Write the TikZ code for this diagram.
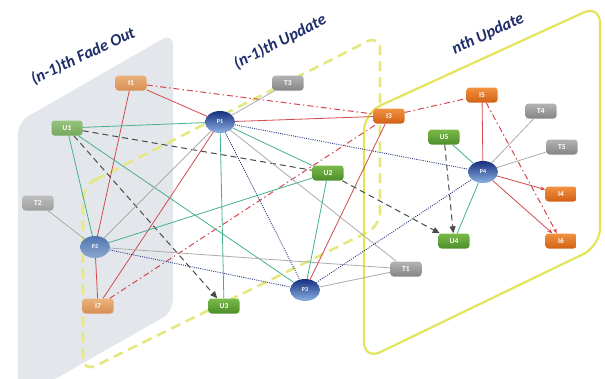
\documentclass[tikz,border=0pt]{standalone}
\usepackage{fontspec}
\setmainfont{Carlito}
\usetikzlibrary{shapes.geometric,arrows.meta}
\definecolor{panelgray}{HTML}{E3E7EB}
\definecolor{ydashc}{HTML}{E4E87E}
\definecolor{ysolc}{HTML}{E2E45C}
\definecolor{titlec}{HTML}{1F2D6B}
\definecolor{redc}{HTML}{D24A4E}
\definecolor{greenc}{HTML}{45B08C}
\definecolor{grayc}{HTML}{ABABAB}
\definecolor{navyc}{HTML}{2B3A80}
\definecolor{darkc}{HTML}{4A4A4A}
\begin{document}
\begin{tikzpicture}[x=1pt,y=-1pt,
  box/.style={rectangle,rounded corners=3pt,minimum width=31pt,minimum height=15pt,inner sep=0pt,
    font=\fontsize{7.5}{8}\selectfont\bfseries,text=white},
  orn/.style={box,top color={rgb,255:red,242;green,146;blue,66},bottom color={rgb,255:red,210;green,96;blue,20}},
  grn/.style={box,top color={rgb,255:red,122;green,186;blue,74},bottom color={rgb,255:red,78;green,142;blue,42}},
  gry/.style={box,top color={rgb,255:red,180;green,180;blue,180},bottom color={rgb,255:red,132;green,132;blue,132}},
  fadeorn/.style={box,top color={rgb,255:red,236;green,178;blue,124},bottom color={rgb,255:red,214;green,142;blue,84}},
  fadegrn/.style={box,top color={rgb,255:red,150;green,196;blue,126},bottom color={rgb,255:red,118;green,168;blue,92}},
  fadegry/.style={box,top color={rgb,255:red,190;green,190;blue,190},bottom color={rgb,255:red,158;green,158;blue,158}},
  pers/.style={ellipse,minimum width=30pt,minimum height=22pt,inner sep=0pt,
    top color={rgb,255:red,22;green,48;blue,128},bottom color={rgb,255:red,140;green,176;blue,226},
    font=\fontsize{6}{7}\selectfont\bfseries,text=white},
  fadepers/.style={pers,top color={rgb,255:red,80;green,118;blue,176},bottom color={rgb,255:red,140;green,168;blue,210}},
  redl/.style={draw=redc,line width=0.8pt},
  reddd/.style={draw=redc,line width=1pt,dash pattern=on 6pt off 3pt on 1.5pt off 3pt},
  grnl/.style={draw=greenc,line width=0.8pt},
  gryl/.style={draw=grayc,line width=0.8pt},
  navyl/.style={draw=navyc,line width=0.9pt,dash pattern=on 1pt off 1.2pt},
  darkd/.style={draw=darkc,line width=1pt,dash pattern=on 6pt off 4pt},
  tip/.style={-{Triangle[length=7pt,width=6pt]}},
  rtip/.style={-{Stealth[length=5pt,width=4pt]}},
  ttl/.style={font=\fontsize{16.5}{18}\selectfont\bfseries\itshape,text=titlec,inner sep=0pt}
]
\useasboundingbox (0,0) rectangle (605,378);
% panels
\fill[panelgray,rounded corners=12pt] (18,400) -- (18,122) -- (173,33) -- (173,312) -- cycle;
\draw[ydashc,line width=2.6pt,dash pattern=on 10pt off 6pt,rounded corners=14pt]
  (83,186) -- (380,35) -- (380,226) -- (83,372) -- cycle;
\draw[ysolc,line width=2.2pt,rounded corners=18pt]
  (364,113) -- (600,5) -- (600,246) -- (364,360) -- cycle;
% titles
\node[ttl] (t1) at (83,56) {\rotatebox{25}{(n-1)th Fade Out}};
\node[ttl] (t2) at (280,42) {\rotatebox{27}{(n-1)th Update}};
\node[ttl] (t3) at (488,34) {\rotatebox{25}{nth Update}};
% nodes
\node[fadeorn] (I1) at (131,83) {I1};
\node[fadegrn] (U1) at (67,128) {U1};
\node[fadegry] (T2) at (38,203) {T2};
\node[fadeorn] (I7) at (98,306) {I7};
\node[fadepers] (P2) at (95,247) {P2};
\node[pers] (P1) at (220,122) {P1};
\node[gry] (T3) at (288,83) {T3};
\node[orn] (I3) at (389,116) {I3};
\node[grn] (U2) at (328,173) {U2};
\node[grn] (U3) at (224,306) {U3};
\node[pers] (P3) at (305,290) {P3};
\node[gry] (T1) at (406,269) {T1};
\node[grn] (U4) at (454,241) {U4};
\node[orn] (I6) at (561,241) {I6};
\node[orn] (I4) at (561,194) {I4};
\node[orn] (I5) at (482,95) {I5};
\node[gry] (T4) at (541,111) {T4};
\node[grn] (U5) at (444,137) {U5};
\node[gry] (T5) at (562,147) {T5};
\node[pers] (P4) at (483,172) {P4};
% edges
\path[reddd] (I1) -- (I3);
\path[redl] (I1) -- (P1);
\path[redl] (I1) -- (P2);
\path[redl] (P2) -- (I7);
\path[redl] (I7) -- (P1);
\path[reddd] (I7) -- (I3);
\path[grnl] (U1) -- (P1);
\path[darkd] (U1) -- (U2);
\path[darkd,tip] (U1) -- (U3);
\path[grnl] (U1) -- (P3);
\path[grnl] (U1) -- (P2);
\path[gryl] (T2) -- (P2);
\path[grnl] (P2) -- (U2);
\path[gryl] (P2) -- (P1);
\path[gryl] (P2) -- (T1);
\path[navyl] (P2) -- (P3);
\path[gryl] (P1) -- (T3);
\path[redl] (P1) -- (I3);
\path[navyl] (P1) -- (P4);
\path[grnl] (P1) -- (U3);
\path[grnl] (P1) -- (U2);
\path[navyl] (P1) -- (P3);
\path[gryl] (P1) -- (T1);
\path[grnl] (U2) -- (P3);
\path[redl] (I3) -- (P3);
\path[gryl] (P3) -- (T1);
\path[navyl] (P3) -- (P4);
\path[darkd,tip] (U2) -- (U4);
\path[reddd] (I3) -- (I5);
\path[redl] (P4) -- (I5);
\path[gryl] (P4) -- (T4);
\path[gryl] (P4) -- (T5);
\path[grnl] (P4) -- (U5);
\path[redl,rtip] (P4) -- (I4);
\path[redl,rtip] (P4) -- (I6);
\path[grnl] (P4) -- (U4);
\path[darkd,tip] (U5) -- (U4);
\path[reddd,rtip] (I5) -- (I6);
\end{tikzpicture}
\end{document}
